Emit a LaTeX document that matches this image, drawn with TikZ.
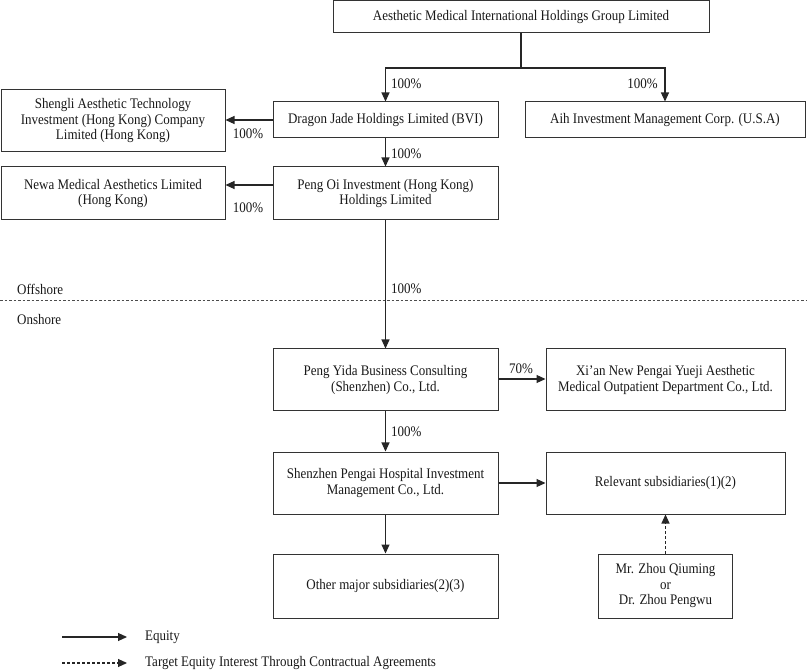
\documentclass[tikz,border=0pt]{standalone}
\usepackage{fontspec}
\setmainfont[FakeStretch=0.89]{Liberation Serif}
\usetikzlibrary{arrows.meta}
\begin{document}
\begin{tikzpicture}[x=1pt,y=-1pt,
  box/.style={draw=black!80,line width=1pt,align=center,inner sep=0pt,
    font=\fontsize{14.6}{15.5}\selectfont,text=black!90},
  arr/.style={draw=black!85,line width=1.1pt,-{Triangle[length=9pt,width=8pt]}},
  darr/.style={arr,dash pattern=on 3pt off 2pt},
  lbl/.style={font=\fontsize{14.6}{15.5}\selectfont,text=black!90,inner sep=0pt}]
\useasboundingbox (0,0) rectangle (807,671);
\fill[white] (0,0) rectangle (807,671);
% boxes
\node[box,minimum width=376pt,minimum height=32pt] (top) at (521,17) {Aesthetic Medical International Holdings Group Limited};
\node[box,minimum width=225pt,minimum height=36pt] (dj) at (385.5,120) {Dragon Jade Holdings Limited (BVI)};
\node[box,minimum width=280pt,minimum height=36pt] (aih) at (665,120) {Aih Investment Management Corp. (U.S.A)};
\node[box,minimum width=224pt,minimum height=62pt] (sh) at (113,121) {Shengli Aesthetic Technology\\Investment (Hong Kong) Company\\Limited (Hong Kong)};
\node[box,minimum width=225pt,minimum height=53pt] (po) at (385.5,193.5) {Peng Oi Investment (Hong Kong)\\Holdings Limited};
\node[box,minimum width=224pt,minimum height=53pt] (newa) at (113,193.5) {Newa Medical Aesthetics Limited\\(Hong Kong)};
\node[box,minimum width=225pt,minimum height=62pt] (py) at (385.5,380) {Peng Yida Business Consulting\\(Shenzhen) Co., Ltd.};
\node[box,minimum width=239pt,minimum height=62pt] (xian) at (665.5,380) {Xi'an New Pengai Yueji Aesthetic\\Medical Outpatient Department Co., Ltd.};
\node[box,minimum width=225pt,minimum height=62pt] (sp) at (385.5,483) {Shenzhen Pengai Hospital Investment\\Management Co., Ltd.};
\node[box,minimum width=239pt,minimum height=62pt] (rel) at (665.5,483) {Relevant subsidiaries(1)(2)};
\node[box,minimum width=225pt,minimum height=64pt] (om) at (385.5,586) {Other major subsidiaries(2)(3)};
\node[box,minimum width=134pt,minimum height=64pt] (zhou) at (665.5,586) {Mr. Zhou Qiuming\\or\\Dr. Zhou Pengwu};
% connectors
\coordinate (split) at (521,68);
\draw[draw=black!85,line width=1.1pt] (top.south) -- (split);
\draw[arr] (split) -| (dj.north);
\draw[arr] (split) -| (aih.north);
\node[lbl,anchor=west] (l1) at (391,84) {100\%};
\node[lbl,anchor=east] (l2) at (658,84) {100\%};
\draw[arr] (dj.west) -- (dj.west -| sh.east);
\node[lbl] (l3) at (248,134) {100\%};
\draw[arr] (dj.south) -- (po.north);
\node[lbl,anchor=west] (l4) at (391,154) {100\%};
\draw[arr] ([yshift=8.5pt]po.west) -- ([yshift=8.5pt]po.west -| newa.east);
\node[lbl] (l5) at (248,208) {100\%};
\draw[arr] (po.south) -- (py.north);
\node[lbl,anchor=west] (l6) at (391,289) {100\%};
\draw[arr] ([yshift=1pt]py.east) -- ([yshift=1pt]py.east -| xian.west);
\node[lbl] (l7) at (521,369) {70\%};
\draw[arr] (py.south) -- (sp.north);
\node[lbl,anchor=west] (l8) at (391,432) {100\%};
\draw[arr] (sp.east) -- (rel.west);
\draw[arr] (sp.south) -- (om.north);
\draw[darr] (zhou.north) -- (rel.south);
% offshore / onshore
\node[lbl,anchor=west] (off) at (17,289) {Offshore};
\node[lbl,anchor=west] (on) at (17,320) {Onshore};
\coordinate (dl) at (0,300);
\coordinate (dr) at (807,300);
\draw[black!70,line width=0.9pt,dash pattern=on 2.5pt off 2pt] (dl) -- (dr);
% legend
\coordinate (la1) at (62,637);
\coordinate (lb1) at (127,637);
\coordinate (la2) at (62,663);
\coordinate (lb2) at (127,663);
\draw[arr] (la1) -- (lb1);
\draw[darr] (la2) -- (lb2);
\node[lbl,anchor=west] (eq) at (145,637) {Equity};
\node[lbl,anchor=west] (tg) at (145,663) {Target Equity Interest Through Contractual Agreements};
\end{tikzpicture}
\end{document}
